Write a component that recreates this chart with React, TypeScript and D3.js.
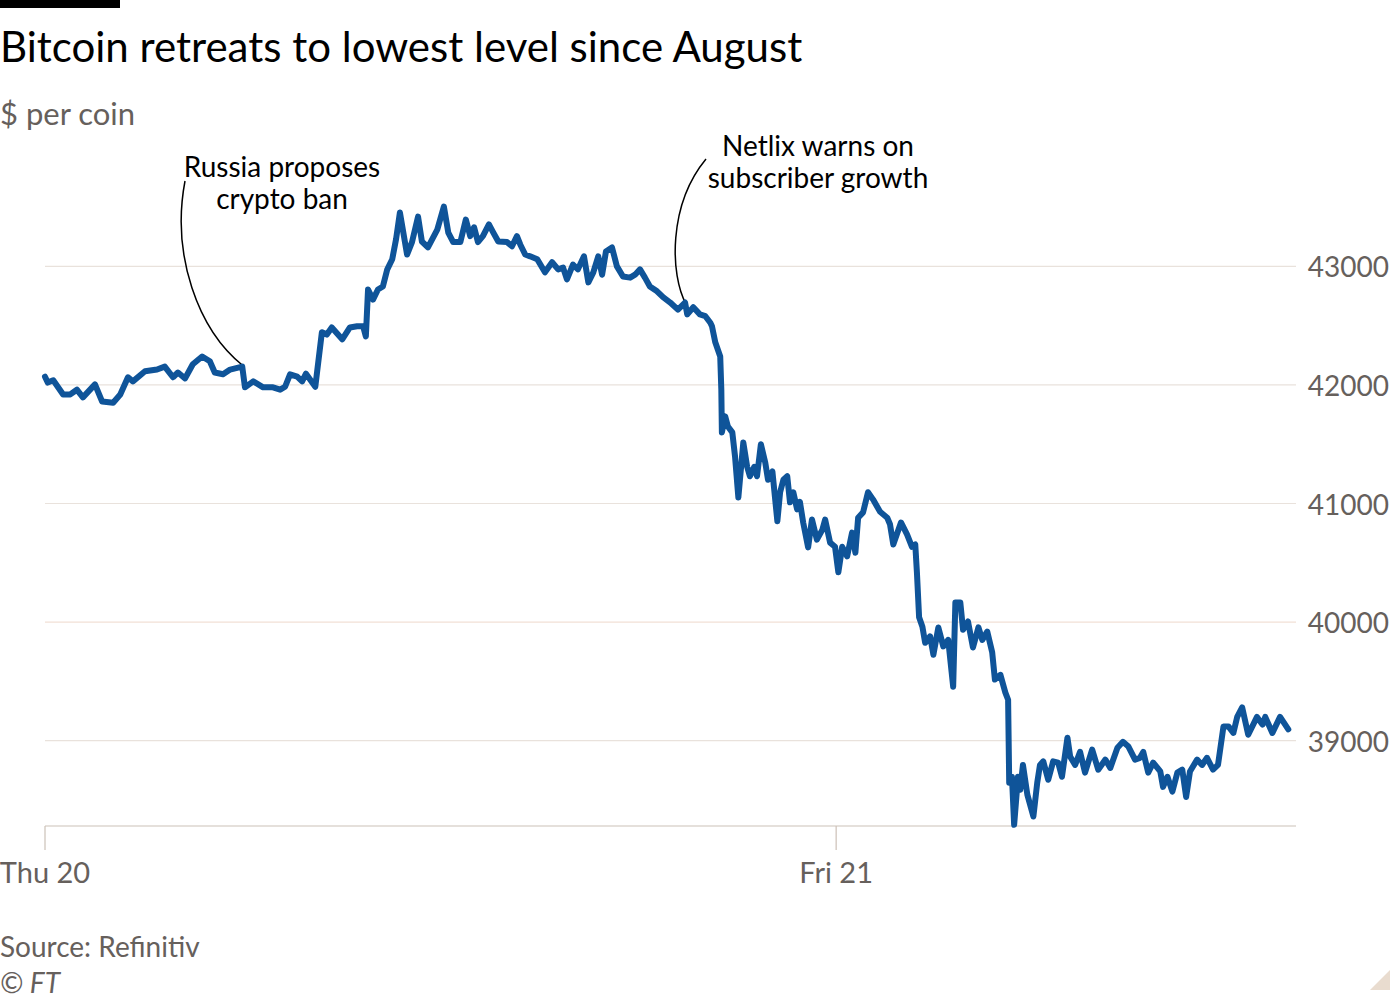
import * as d3 from "d3";

// minutes after Thu 20 Jan 00:00
const minutesSinceThu = [
  0, 5, 15, 33, 46, 58, 69, 91, 104, 124, 137, 151, 160, 182, 204, 218, 233, 242, 255, 269,
  286, 300, 309, 324, 337, 359, 364, 379, 397, 415, 428, 437, 446, 459, 468, 475, 492, 504, 513, 522,
  541, 555, 568, 579, 584, 588, 597, 606, 615, 623, 632, 639, 646, 659, 668, 679, 686, 697, 714, 726,
  734, 743, 756, 766, 774, 781, 788, 797, 808, 816, 825, 841, 850, 859, 865, 874, 883, 896, 910, 923,
  934, 943, 950, 961, 970, 981, 989, 998, 1007, 1014, 1021, 1032, 1041, 1052, 1065, 1074, 1083, 1092, 1101, 1114,
  1125, 1138, 1152, 1165, 1169, 1180, 1192, 1202, 1211, 1214, 1220, 1229, 1231, 1232, 1238, 1243, 1251, 1256, 1262, 1271,
  1278, 1283, 1291, 1296, 1303, 1311, 1316, 1324, 1333, 1338, 1344, 1351, 1356, 1362, 1369, 1374, 1380, 1389, 1396, 1405,
  1415, 1420, 1429, 1438, 1444, 1451, 1460, 1469, 1475, 1480, 1489, 1498, 1507, 1520, 1533, 1538, 1544, 1558, 1569, 1578,
  1584, 1587, 1591, 1597, 1602, 1611, 1617, 1626, 1635, 1644, 1653, 1657, 1666, 1671, 1680, 1689, 1699, 1706, 1715, 1724,
  1729, 1739, 1748, 1753, 1755, 1760, 1764, 1771, 1775, 1780, 1788, 1799, 1806, 1811, 1817, 1826, 1835, 1844, 1851, 1861,
  1866, 1875, 1884, 1893, 1906, 1917, 1930, 1939, 1952, 1962, 1972, 1984, 1993, 1999, 2008, 2017, 2030, 2035, 2043, 2052,
  2061, 2070, 2077, 2084, 2097, 2106, 2115, 2126, 2135, 2145, 2154, 2163, 2170, 2179, 2190, 2206, 2216, 2221, 2234, 2248,
  2263,
];

// $ per coin
const prices = [
  42070, 42020, 42040, 41920, 41920, 41960, 41895, 42005, 41860, 41850, 41920, 42065, 42030, 42115, 42130, 42155, 42065, 42105, 42055, 42175,
  42240, 42200, 42105, 42090, 42130, 42155, 41980, 42030, 41980, 41980, 41960, 41985, 42090, 42070, 42030, 42095, 41985, 42445, 42425, 42485,
  42385, 42485, 42495, 42495, 42410, 42805, 42720, 42805, 42830, 42975, 43060, 43230, 43455, 43100, 43205, 43420, 43210, 43160, 43310, 43505,
  43285, 43205, 43205, 43395, 43255, 43330, 43205, 43255, 43355, 43285, 43210, 43205, 43170, 43255, 43185, 43100, 43085, 43060, 42950, 43035,
  42975, 42990, 42890, 43015, 42975, 43085, 42865, 42950, 43085, 42930, 43125, 43160, 43000, 42915, 42905, 42930, 42975, 42905, 42830, 42790,
  42740, 42695, 42635, 42695, 42595, 42655, 42595, 42580, 42525, 42495, 42360, 42240, 41960, 41600, 41735, 41650, 41600, 41395, 41050, 41515,
  41310, 41230, 41310, 41230, 41500, 41345, 41200, 41270, 40850, 41095, 41200, 41230, 41010, 41095, 40950, 41015, 40840, 40630, 40865, 40695,
  40780, 40865, 40670, 40635, 40420, 40635, 40555, 40755, 40585, 40880, 40925, 41095, 41035, 40930, 40880, 40825, 40655, 40840, 40740, 40635,
  40655, 40420, 40040, 39960, 39825, 39880, 39725, 39955, 39795, 39850, 39455, 40165, 40165, 39935, 40005, 39785, 39955, 39850, 39920, 39745,
  39515, 39555, 39405, 39345, 38645, 38695, 38290, 38695, 38585, 38795, 38545, 38360, 38645, 38795, 38825, 38670, 38825, 38815, 38695, 39025,
  38865, 38795, 38905, 38730, 38925, 38755, 38840, 38770, 38940, 38990, 38950, 38840, 38855, 38905, 38730, 38815, 38740, 38610, 38695, 38570,
  38730, 38755, 38525, 38740, 38840, 38795, 38855, 38755, 38795, 39120, 39120, 39065, 39200, 39280, 39050, 39200, 39135, 39200, 39065, 39200,
  39095,
];

const yTicks = [39000, 40000, 41000, 42000, 43000];
const dayTicks = ["2022-01-20T00:00", "2022-01-21T00:00"];
const dayLabels = ["Thu 20", "Fri 21"];

const annotations = [
  { lines: ["Russia proposes", "crypto ban"], minute: 361, price: 42160 },
  { lines: ["Netlix warns on", "subscriber growth"], minute: 1167, price: 42680 },
];

const WIDTH = 1400;
const HEIGHT = 1000;
const PLOT = { left: 45, right: 1296, top: 200, bottom: 826 };
const FONT = "Lato, 'Noto Sans', sans-serif";
const GREY = "#66605c";
const START = new Date("2022-01-20T00:00");
const END_MINUTES = 2277;

// label position + connector control points, per annotation (pixels)
const ANNO_LAYOUT = [
  { lx: 282, ly: 177, sx: 185, sy: 181, c1: [171, 255], c2: [198, 330] },
  { lx: 818, ly: 156, sx: 706, sy: 159, c1: [668, 205], c2: [670, 275] },
];

const App = () => {
  const toDate = (m: number) => new Date(START.getTime() + m * 60000);

  const xScale = d3
    .scaleTime()
    .domain([START, toDate(END_MINUTES)])
    .range([PLOT.left, PLOT.right]);

  const yScale = d3
    .scaleLinear()
    .domain([38280, 43560])
    .range([PLOT.bottom, PLOT.top]);

  const data = minutesSinceThu.map((m, i) => ({ date: toDate(m), price: prices[i] }));

  const linePath = d3
    .line<{ date: Date; price: number }>()
    .x((d) => xScale(d.date))
    .y((d) => yScale(d.price))(data);

  return (
    <div style={{ position: "absolute", left: 0, top: 0 }}>
      <svg width={WIDTH} height={HEIGHT} style={{ display: "block", background: "#fff" }}>
        <rect x={0} y={0} width={120} height={8} fill="#000" />
        <text x={0} y={62} fontFamily={FONT} fontSize={42} fill="#000">
          Bitcoin retreats to lowest level since August
        </text>
        <text x={0} y={125} fontFamily={FONT} fontSize={31} fill={GREY}>
          $ per coin
        </text>

        {/* grid + y labels */}
        {yTicks.map((t) => (
          <g key={t}>
            <line
              x1={PLOT.left}
              x2={PLOT.right}
              y1={yScale(t)}
              y2={yScale(t)}
              stroke={t === 40000 ? "#f2e0d6" : "#e9e2dc"}
              strokeWidth={1.2}
            />
            <text
              x={1389}
              y={yScale(t) + 11}
              textAnchor="end"
              fontFamily={FONT}
              fontSize={28}
              fill={GREY}
            >
              {t}
            </text>
          </g>
        ))}

        {/* x axis */}
        <line x1={PLOT.left} x2={PLOT.right} y1={PLOT.bottom} y2={PLOT.bottom} stroke="#ccc1b7" strokeWidth={1.2} />
        {dayTicks.map((d, i) => {
          const x = xScale(new Date(d));
          return (
            <g key={d}>
              <line x1={x} x2={x} y1={PLOT.bottom} y2={PLOT.bottom + 24} stroke="#ccc1b7" strokeWidth={1.2} />
              <text x={x} y={883} textAnchor="middle" fontFamily={FONT} fontSize={29} fill={GREY}>
                {dayLabels[i]}
              </text>
            </g>
          );
        })}

        {/* annotations */}
        {annotations.map((a, i) => {
          const L = ANNO_LAYOUT[i];
          const ex = xScale(toDate(a.minute));
          const ey = yScale(a.price);
          return (
            <g key={i}>
              <path
                d={`M${L.sx},${L.sy} C${L.c1[0]},${L.c1[1]} ${L.c2[0]},${L.c2[1]} ${ex},${ey}`}
                fill="none"
                stroke="#000"
                strokeWidth={1.5}
              />
              {a.lines.map((ln, j) => (
                <text
                  key={j}
                  x={L.lx}
                  y={L.ly + j * 32}
                  textAnchor="middle"
                  fontFamily={FONT}
                  fontSize={28}
                  fill="#000"
                >
                  {ln}
                </text>
              ))}
            </g>
          );
        })}

        <path
          d={linePath ?? ""}
          fill="none"
          stroke="#0f5499"
          strokeWidth={6}
          strokeLinejoin="round"
          strokeLinecap="round"
        />

        <text x={0} y={957} fontFamily={FONT} fontSize={28} fill={GREY}>
          Source: Refinitiv
        </text>
        <text x={0} y={993} fontFamily={FONT} fontSize={28} fontStyle="italic" fill={GREY}>
          © FT
        </text>
        <polygon points="1370,990 1390,970 1390,990" fill="#e9dccf" />
      </svg>
    </div>
  );
};

export default App;
